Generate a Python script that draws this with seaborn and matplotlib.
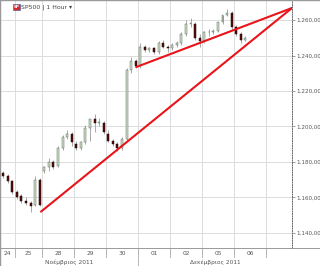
import numpy as np
import pandas as pd
import matplotlib
matplotlib.use("Agg")
import matplotlib.pyplot as plt
import seaborn as sns

# ---- data ----
opens  = [1174, 1172, 1169, 1163, 1161, 1158, 1157, 1156, 1170, 1175, 1177, 1180, 1178, 1188,
          1194, 1196, 1190, 1188, 1191, 1199, 1204, 1202, 1202, 1196, 1192, 1190, 1188, 1193,
          1232, 1237, 1234, 1245, 1243, 1244, 1242, 1247, 1245, 1244, 1246, 1247, 1252, 1258,
          1258, 1250, 1248, 1253, 1253, 1254, 1259, 1263, 1264, 1256, 1252, 1249]
highs  = [1175, 1173, 1170, 1164, 1162, 1160, 1158, 1172, 1171, 1178, 1182, 1181, 1189, 1195,
          1198, 1197, 1192, 1192, 1201, 1200, 1207, 1205, 1203, 1198, 1193, 1191, 1194, 1233,
          1239, 1238, 1247, 1246, 1245, 1245, 1248, 1249, 1246, 1247, 1248, 1253, 1260, 1261,
          1259, 1252, 1254, 1255, 1255, 1259, 1263, 1266, 1265, 1257, 1253, 1251]
lows   = [1171, 1168, 1162, 1159, 1157, 1156, 1152, 1155, 1155, 1174, 1175, 1176, 1177, 1187,
          1193, 1189, 1187, 1187, 1190, 1192, 1197, 1200, 1196, 1191, 1189, 1186, 1187, 1192,
          1230, 1233, 1233, 1242, 1242, 1241, 1241, 1244, 1242, 1243, 1245, 1246, 1251, 1256,
          1249, 1245, 1247, 1251, 1252, 1253, 1258, 1262, 1255, 1251, 1247, 1248]
closes = [1172, 1169, 1163, 1160, 1158, 1157, 1155, 1170, 1156, 1177, 1180, 1177, 1188, 1194,
          1196, 1191, 1188, 1191, 1199, 1204, 1202, 1202, 1197, 1192, 1190, 1188, 1193, 1232,
          1237, 1234, 1245, 1243, 1244, 1242, 1247, 1245, 1244, 1246, 1247, 1252, 1258, 1258,
          1250, 1248, 1253, 1253, 1254, 1259, 1263, 1264, 1256, 1252, 1249, 1250]

day_labels = ["24", "25", "28", "29", "30", "01", "02", "05", "06"]
bars_per_day = [3, 6, 7, 7, 7, 7, 7, 7, 7]
month_labels = ["Νοέμβριος 2011", "Δεκέμβριος 2011"]
days_per_month = [5, 4]

y_ticks = [1140, 1160, 1180, 1200, 1220, 1240, 1260]
y_ticklabels = ["1.140,00", "1.160,00", "1.180,00", "1.200,00", "1.220,00", "1.240,00", "1.260,00"]

# trend lines: (bar position, price)
trend_lower_x = [8.28, 63.2]
trend_lower_y = [1152.0, 1266.8]
trend_upper_x = [29.1, 63.2]
trend_upper_y = [1233.5, 1266.8]

title = "SP500 | 1 Hour"

# ---- figure ----
sns.set_style("white")
plt.rcParams['font.family'] = ['DejaVu Sans']
W, H = 320, 266
fig = plt.figure(figsize=(W / 100, H / 100), dpi=100)
fig.patch.set_facecolor("white")

plot_w = 292 / W
ax = fig.add_axes([0, 18 / H, plot_w, 248 / H])
ax_day = fig.add_axes([0, 8 / H, plot_w, 10 / H])
ax_mon = fig.add_axes([0, 0, plot_w, 8 / H])

xmin, xmax = -0.69, 63.2
ax.set_xlim(xmin, xmax)
ax.set_ylim(1131.5, 1271.3)

n = len(closes)
df = pd.DataFrame({"x": np.arange(n), "o": opens, "h": highs, "l": lows, "c": closes})
bounds = np.cumsum(bars_per_day) - 0.5

# grid
for b in bounds:
    ax.axvline(b, color="#dcdcdc", lw=0.7, zorder=0)
for t in y_ticks:
    ax.axhline(t, color="#dcdcdc", lw=0.7, zorder=0)

# candles
up = df["c"] >= df["o"]
ax.vlines(df["x"], df["l"], df["h"], color="#9a9a9a", lw=0.6, zorder=2)
bottoms = np.minimum(df["o"], df["c"])
heights = np.maximum(np.abs(df["c"] - df["o"]), 0.4)
ax.bar(df["x"][up], heights[up], bottom=bottoms[up], width=0.42,
       color="#cfdccb", edgecolor="#5f6f5a", linewidth=0.35, zorder=3)
ax.bar(df["x"][~up], heights[~up], bottom=bottoms[~up], width=0.42,
       color="#5a0c0c", edgecolor="#1a0505", linewidth=0.35, zorder=3)

# trend lines
tl = pd.DataFrame({"x": trend_lower_x, "y": trend_lower_y})
tu = pd.DataFrame({"x": trend_upper_x, "y": trend_upper_y})
sns.lineplot(data=tl, x="x", y="y", ax=ax, color="#e8141a", lw=1.5, zorder=5)
sns.lineplot(data=tu, x="x", y="y", ax=ax, color="#e8141a", lw=1.5, zorder=5)
ax.set_xlabel("")
ax.set_ylabel("")

# right axis
ax.yaxis.tick_right()
ax.set_yticks(y_ticks)
ax.set_yticklabels(y_ticklabels, fontsize=4.1, color="#555555")
ax.tick_params(axis="y", length=2, width=0.5, color="#777777", pad=1)
ax.set_xticks([])
for s in ["top", "left", "bottom"]:
    ax.spines[s].set_visible(False)
ax.spines["right"].set_linestyle((0, (1, 1.5)))
ax.spines["right"].set_color("#666666")
ax.spines["right"].set_linewidth(0.7)

# title
ax.text(13.5 / 292, 1 - 7 / 248, "SP", transform=ax.transAxes, fontsize=3.0, color="white",
        va="center", ha="left", fontweight="bold",
        bbox=dict(boxstyle="square,pad=0.15", fc="#d8262a", ec="#3355aa", lw=0.4))
ax.text(21 / 292, 1 - 7 / 248, title + " \u25be", transform=ax.transAxes, fontsize=4.4,
        color="#444444", va="center", ha="left")

# day row
for a in (ax_day, ax_mon):
    a.set_xlim(xmin, xmax)
    a.set_ylim(0, 1)
    a.set_xticks([])
    a.set_yticks([])
    for s in a.spines.values():
        s.set_visible(False)
    a.set_facecolor("white")
ax_day.axhline(1, color="#999999", lw=0.7)
ax_day.axhline(0, color="#999999", lw=0.6)
starts = np.concatenate([[xmin], bounds[:-1]])
for i, lab in enumerate(day_labels):
    ax_day.axvline(bounds[i], color="#999999", lw=0.5)
    left = starts[i]
    right = bounds[i]
    ax_day.text((left + right) / 2, 0.45, lab, fontsize=4.2, color="#555555", ha="center", va="center")

mb = [bounds[days_per_month[0] - 1], xmax]
mstarts = [xmin, mb[0]]
for i, lab in enumerate(month_labels):
    ax_mon.axvline(mb[i], color="#999999", lw=0.5)
    ax_mon.text((mstarts[i] + mb[i]) / 2, 0.45, lab, fontsize=4.2, color="#555555",
                ha="center", va="center")

# border lines
fig.add_artist(plt.Line2D([plot_w, 1], [18 / H, 18 / H], color="#999999", lw=0.7))
fig.add_artist(plt.Line2D([0, 0], [0, 1], color="#999999", lw=1.0))
fig.add_artist(plt.Line2D([0, 1], [1, 1], color="#999999", lw=1.0))

fig.savefig("out.png", dpi=100)
